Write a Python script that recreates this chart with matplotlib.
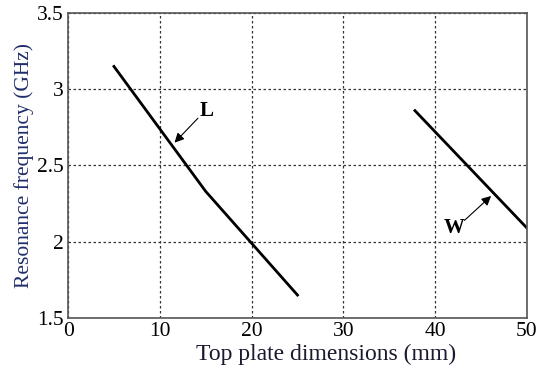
import numpy as np
import matplotlib.pyplot as plt

# top plate dimension sweeps (mm) vs resonance frequency (GHz)
L_mm = [5, 15, 25]
L_ghz = [3.15, 2.33, 1.65]
W_mm = [37.8, 50]
W_ghz = [2.86, 2.09]

xticks = [0, 10, 20, 30, 40, 50]
yticks = [1.5, 2, 2.5, 3, 3.5]

plt.rcParams['font.family'] = ['Liberation Serif', 'DejaVu Serif']

fig = plt.figure(figsize=(5.36, 3.74), dpi=100)
ax = fig.add_axes([0.127, 0.150, 0.856, 0.815])

ax.plot(L_mm, L_ghz, color='black', lw=2)
ax.plot(W_mm, W_ghz, color='black', lw=2)

ax.set_xlim(0, 50)
ax.set_ylim(1.5, 3.5)
ax.set_xticks(xticks)
ax.set_yticks(yticks)
ax.set_yticklabels(['1.5', '2', '2.5', '3', '3.5'])
ax.tick_params(direction='in', length=0, labelsize=15.5, pad=3)
ax.grid(True, linestyle=(0, (2, 2)), color='#333333', lw=0.9)
for s in ax.spines.values():
    s.set_color('#555555')
    s.set_linewidth(1.2)

# curve labels with arrows
arrow = dict(arrowstyle='-|>', color='black', lw=0.8, shrinkA=0, shrinkB=0, mutation_scale=14)
ax.text(15.1, 2.86, 'L', fontsize=15, fontweight='bold', ha='center', va='center')
ax.annotate('', xy=(11.6, 2.65), xytext=(14.15, 2.81), arrowprops=arrow)
ax.text(42.1, 2.09, 'W', fontsize=15, fontweight='bold', ha='center', va='center')
ax.annotate('', xy=(46.1, 2.30), xytext=(43.2, 2.14), arrowprops=arrow)

ax.set_xlabel('Top plate dimensions (mm)', fontsize=17, color='#1a1a2e', labelpad=1)
ax.xaxis.set_label_coords(0.562, -0.085)
ax.set_ylabel('Resonance frequency (GHz)', fontsize=15.5, color='#1f2d6b', labelpad=2)

fig.savefig('out.png', dpi=100)
